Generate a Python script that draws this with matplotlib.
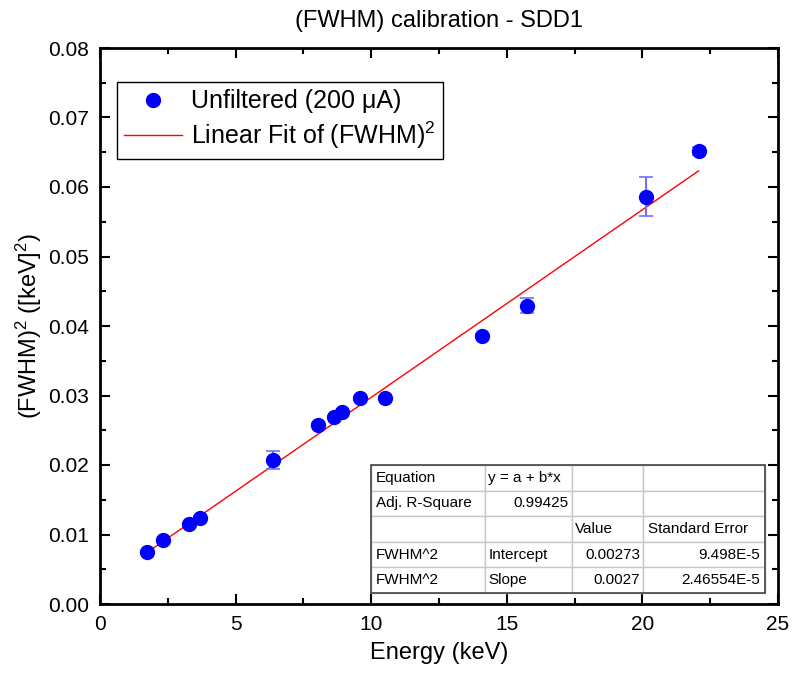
import numpy as np
import matplotlib
matplotlib.use("Agg")
import matplotlib.pyplot as plt
from matplotlib.ticker import MultipleLocator, FormatStrFormatter
from matplotlib.lines import Line2D

plt.rcParams['font.family'] = ['Liberation Sans', 'DejaVu Sans']
plt.rcParams['mathtext.fontset'] = 'custom'
plt.rcParams['mathtext.rm'] = 'Liberation Sans'
plt.rcParams['mathtext.it'] = 'Liberation Sans:italic'

# measured points
energy = [1.74, 2.31, 3.29, 3.68, 6.38, 8.04, 8.63, 8.92, 9.58, 10.52, 14.1, 15.75, 20.13, 22.07]
fwhm2 = [0.00744, 0.0092, 0.01147, 0.0124, 0.0207, 0.0258, 0.0269, 0.0276, 0.0296, 0.0296,
         0.0386, 0.0429, 0.0586, 0.0652]
fwhm2_err = [0.0002, 0.0002, 0.0002, 0.0002, 0.0013, 0.0002, 0.0002, 0.0002, 0.0002, 0.0002,
             0.0003, 0.0011, 0.0028, 0.0006]

# fit result
intercept = 0.00273
slope = 0.0027

table_rows = [
    ["Equation", "y = a + b*x", "", ""],
    ["Adj. R-Square", "0.99425", "", ""],
    ["", "", "Value", "Standard Error"],
    ["FWHM^2", "Intercept", "0.00273", "9.498E-5"],
    ["FWHM^2", "Slope", "0.0027", "2.46554E-5"],
]

fig = plt.figure(figsize=(7.92, 6.79), dpi=100)
ax = fig.add_axes([100 / 792, 1 - 604 / 679, 678 / 792, 556 / 679])

xfit = np.array([min(energy), max(energy)])
ax.plot(xfit, intercept + slope * xfit, color='red', lw=1, zorder=2)
ax.errorbar(energy, fwhm2, yerr=fwhm2_err, fmt='o', color='blue', ms=10,
            ecolor='#7070ff', elinewidth=1.5, capsize=5, capthick=1.2, zorder=3)

ax.set_xlim(0, 25)
ax.set_ylim(0, 0.08)
ax.xaxis.set_major_locator(MultipleLocator(5))
ax.xaxis.set_minor_locator(MultipleLocator(2.5))
ax.yaxis.set_major_locator(MultipleLocator(0.01))
ax.yaxis.set_minor_locator(MultipleLocator(0.005))
ax.yaxis.set_major_formatter(FormatStrFormatter('%.2f'))
ax.tick_params(which='both', direction='in', top=True, right=True, width=1.5,
               labelsize=15, pad=8)
ax.tick_params(which='major', length=7)
ax.tick_params(which='minor', length=4)
for s in ax.spines.values():
    s.set_linewidth(2)

ax.set_xlabel('Energy (keV)', fontsize=17, labelpad=6)
ax.set_ylabel('(FWHM)$^2$ ([keV]$^2$)', fontsize=17, labelpad=3)
ax.set_title('(FWHM) calibration - SDD1', fontsize=17, pad=15)

handles = [Line2D([], [], ls='none', marker='o', color='blue', ms=10),
           Line2D([], [], color='red', lw=1)]
labels = ['Unfiltered (200 \u03bcA)', 'Linear Fit of (FWHM)$^2$']
leg = ax.legend(handles, labels, loc='upper left', bbox_to_anchor=(0.025, 0.939),
                borderaxespad=0, fontsize=18, fancybox=False, edgecolor='black',
                framealpha=1, handlelength=2.3, handletextpad=0.35,
                borderpad=0.3, labelspacing=0.25)
leg.get_frame().set_linewidth(1)

tbl = ax.table(cellText=table_rows, bbox=[0.3997, 0.0198, 0.581, 0.230],
               colWidths=[114, 87, 71, 122], zorder=5)
tbl.auto_set_font_size(False)
tbl.set_fontsize(11)
right_cells = {(1, 1), (3, 2), (3, 3), (4, 2), (4, 3)}
for (r, c), cell in tbl.get_celld().items():
    cell.set_edgecolor('#c8c8c8')
    cell.set_linewidth(1)
    cell.set_facecolor('white')
    cell.PAD = 0.04
    cell.get_text().set_ha('right' if (r, c) in right_cells else 'left')
# outer border
ax.add_patch(plt.Rectangle((0.3997, 0.0198), 0.581, 0.230, transform=ax.transAxes,
                           fill=False, edgecolor='#444444', lw=1.2, zorder=6))

fig.savefig('out.png', dpi=100)
